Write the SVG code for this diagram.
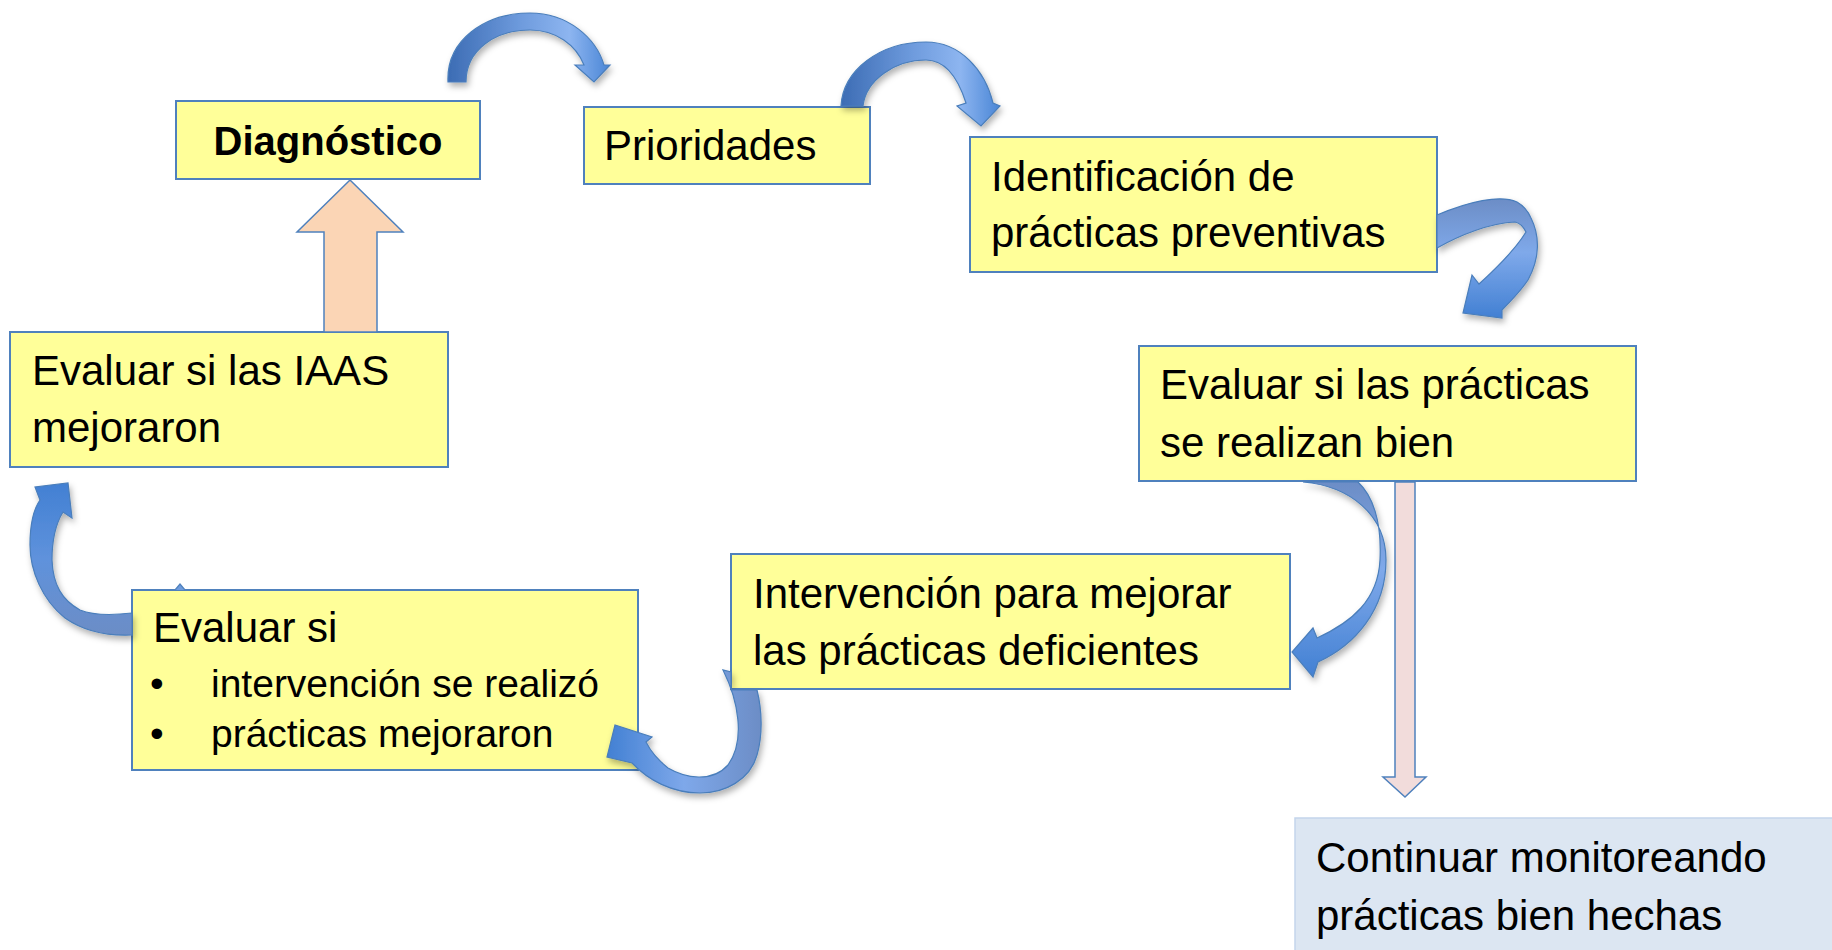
<svg xmlns="http://www.w3.org/2000/svg" width="1832" height="950" viewBox="0 0 1832 950">
<style>
.box{fill:#FFFF99;stroke:#4F81BD;stroke-width:2}
.box2{fill:#DCE6F2;stroke:#C3D5EC;stroke-width:1.5}
.t{font-family:"Liberation Sans",Arial,sans-serif;font-size:42px;fill:#000}
.b{font-weight:bold;font-size:40px}
.s{font-size:39px}
.ca{stroke:#4A7EBB;stroke-width:1.2;filter:url(#sh)}
.blk{stroke:#4F81BD;stroke-width:1.5}
</style>
<defs>
<filter id="sh" x="-20%" y="-20%" width="140%" height="150%">
<feDropShadow dx="2" dy="4" stdDeviation="3" flood-color="#000" flood-opacity="0.3"/>
</filter>
<linearGradient id="gH" x1="0" y1="0.5" x2="1" y2="0.5">
<stop offset="0" stop-color="#3C6CB4"/><stop offset="0.45" stop-color="#6E9BDD"/><stop offset="0.75" stop-color="#8DB5F0"/><stop offset="1" stop-color="#4A86D6"/>
</linearGradient>
<linearGradient id="gV" x1="0.5" y1="0" x2="0.5" y2="1">
<stop offset="0" stop-color="#6C8DC6"/><stop offset="0.45" stop-color="#7FA9EA"/><stop offset="1" stop-color="#4280D3"/>
</linearGradient>
<linearGradient id="gL" x1="1" y1="0.5" x2="0" y2="0.5">
<stop offset="0" stop-color="#6C8DC6"/><stop offset="0.5" stop-color="#7EA8EA"/><stop offset="1" stop-color="#4280D3"/>
</linearGradient>
<linearGradient id="gU" x1="0.5" y1="1" x2="0.5" y2="0">
<stop offset="0" stop-color="#6C8DC6"/><stop offset="0.5" stop-color="#5F92DC"/><stop offset="1" stop-color="#4280D3"/>
</linearGradient>
</defs>
<rect width="1832" height="950" fill="#FFFFFF"/>

<g id="n-diagnostico">
<rect class="box" x="176" y="101" width="304" height="78"/>
<text class="t b" x="328" y="155" text-anchor="middle">Diagnóstico</text>
</g>
<g id="n-prioridades">
<rect class="box" x="584" y="107" width="286" height="77"/>
<text class="t" x="604" y="160">Prioridades</text>
</g>
<g id="n-identificacion">
<rect class="box" x="970" y="137" width="467" height="135"/>
<text class="t" x="991" y="191">Identificación de</text>
<text class="t" x="991" y="247">prácticas preventivas</text>
</g>
<g id="n-evaluar-practicas">
<rect class="box" x="1139" y="346" width="497" height="135"/>
<text class="t" x="1160" y="399">Evaluar si las prácticas</text>
<text class="t" x="1160" y="457">se realizan bien</text>
</g>
<g id="n-intervencion">
<rect class="box" x="731" y="554" width="559" height="135"/>
<text class="t" x="753" y="608">Intervención para mejorar</text>
<text class="t" x="753" y="665">las prácticas deficientes</text>
</g>
<g id="n-evaluar-si">
<rect class="box" x="132" y="590" width="506" height="180"/>
<text class="t" x="153" y="642">Evaluar si</text>
<text class="t s" x="150" y="697">•</text>
<text class="t s" x="211" y="697">intervención se realizó</text>
<text class="t s" x="150" y="747">•</text>
<text class="t s" x="211" y="747">prácticas mejoraron</text>
</g>
<g id="n-evaluar-iaas">
<rect class="box" x="10" y="332" width="438" height="135"/>
<text class="t" x="32" y="385">Evaluar si las IAAS</text>
<text class="t" x="32" y="442">mejoraron</text>
</g>
<g id="n-continuar">
<rect class="box2" x="1295" y="818" width="545" height="140"/>
<text class="t" x="1316" y="872">Continuar monitoreando</text>
<text class="t" x="1316" y="930">prácticas bien hechas</text>
</g>

<g id="connectors">
<polygon class="blk" fill="#FBD5B5" points="324,332 324,232 297,232 350,180 403,232 377,232 377,332"/>
<polygon class="blk" fill="#F2DCDB" points="1395,482 1395,777 1383,777 1405,797 1426,777 1415,777 1415,482"/>
<path class="ca" fill="url(#gH)" d="M448,82 C446,40 485,13 530,13 C568,13 596,38 604,65 L610,65 L594,82 L575,65 L584,65 C576,45 556,30 530,30 C495,30 466,50 466,82 Z"/>
<path class="ca" fill="url(#gH)" d="M841,106 C843,70 880,42 926,42 C960,42 985,70 993,103 L1000,106 L981,126 L957,106 L966,103 C958,78 945,60 926,60 C895,60 866,80 863,106 Z"/>
<path class="ca" fill="url(#gV)" d="M1437,215 C1468,202 1500,194 1517,202 C1524,206 1528,211 1531,218 C1540,236 1540,258 1528,280 C1520,292 1510,302 1502,310 L1502,318 L1463,313 L1472,275 L1479,284 C1500,265 1518,245 1526,232 C1523,226 1520,223 1515,222 C1490,223 1460,235 1437,248 Z"/>
<path class="ca" fill="url(#gV)" d="M1303,482 C1350,486 1386,515 1386,560 C1386,610 1355,645 1318,662 L1313,677 L1292,652 L1313,628 L1317,638 C1352,622 1378,600 1380,560 C1382,520 1372,495 1358,482 Z"/>
<path class="ca" fill="url(#gL)" d="M723,670 C738,700 746,740 728,765 C712,783 685,778 668,768 C658,760 650,750 646,742 L652,737 L615,725 L607,757 L632,763 C648,780 672,793 700,793 C725,793 750,780 757,755 C763,735 762,710 757,690 L731,690 L731,672 Z"/>
<path class="ca" fill="url(#gU)" d="M132,635 C110,636 85,632 65,618 C42,600 30,570 30,545 C30,525 33,510 40,500 L35,487 L68,483 L72,518 L63,512 C55,525 52,540 52,560 C53,585 62,600 80,610 C95,616 115,615 132,613 Z"/>
<polyline points="175,590 180,584 185,590" fill="#6E9BDD" stroke="#4F81BD" stroke-width="1.2"/>
</g>
</svg>
